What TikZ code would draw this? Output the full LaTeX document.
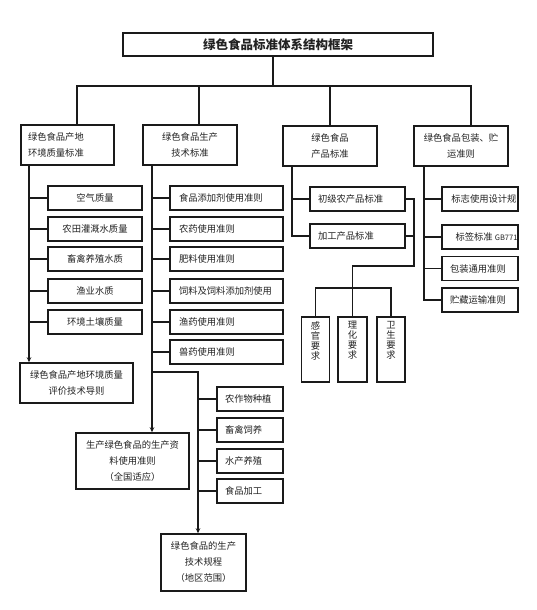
\documentclass[tikz,border=0pt]{standalone}
\usepackage{fontspec}
\newfontfamily\cjk{Noto Sans CJK SC}
\usetikzlibrary{arrows.meta,calc}
\definecolor{ink}{HTML}{1A1A1A}
\definecolor{txt}{HTML}{222222}
\begin{document}
\begin{tikzpicture}[x=1pt,y=-1pt,
  bx/.style={draw=ink, line width=1.2pt, inner sep=0pt, text=txt, font=\cjk\fontsize{9.3}{16}\selectfont},
  cbx/.style 2 args={bx, minimum width=#1pt, minimum height=#2pt, align=center},
  lbx/.style n args={3}{bx, text width=#1pt, inner xsep=#2pt, minimum height=#3pt, align=left},
  clipbx/.style={bx, minimum width=76pt, minimum height=24pt,
    path picture={\node[anchor=west, inner sep=0pt, text=txt, font=\cjk\fontsize{9.3}{16}\selectfont] at ([xshift=8pt]path picture bounding box.west) {#1};}},
  vtxt/.style={anchor=north, inner sep=0pt, text=txt, align=center, font=\cjk\fontsize{9.3}{10}\selectfont},
  ln/.style={draw=ink, line width=1.6pt},
  arr/.style={ln, -{Stealth[length=5pt,width=4.5pt]}}
]
\useasboundingbox (0,0) rectangle (536,610);

% title
\node[cbx={310}{23}, line width=1.5pt, font=\cjk\bfseries\fontsize{12.5}{14}\selectfont] (title) at (278,44.5) {绿色食品标准体系结构框架};

% level 2
\node[lbx={79}{7}{40}] (b1) at (67.5,145) {绿色食品产地\\环境质量标准};
\node[cbx={94}{40}, line width=1.5pt] (b2) at (190,145) {绿色食品生产\\技术标准};
\node[cbx={94}{40}, line width=1.5pt] (b3) at (330,146) {绿色食品\\产品标准};
\node[cbx={94}{40}, line width=1.5pt] (b4) at (461,146) {绿色食品包装、贮\\运准则};

% column 1
\node[cbx={94}{24}] (a1) at (95,198) {空气质量};
\node[cbx={94}{24}] (a2) at (95,229) {农田灌溉水质量};
\node[cbx={94}{24}] (a3) at (95,259) {畜禽养殖水质};
\node[cbx={94}{24}] (a4) at (95,291) {渔业水质};
\node[cbx={94}{24}] (a5) at (95,322) {环境土壤质量};
\node[cbx={113}{40}, line width=1.5pt] (e1) at (76.5,383) {绿色食品产地环境质量\\评价技术导则};

% column 2
\node[lbx={95}{9}{24}] (p1) at (226.5,198) {食品添加剂使用准则};
\node[lbx={95}{9}{24}] (p2) at (226.5,229) {农药使用准则};
\node[lbx={95}{9}{24}] (p3) at (226.5,259) {肥料使用准则};
\node[lbx={95}{9}{24}] (p4) at (226.5,291) {饲料及饲料添加剂使用};
\node[lbx={95}{9}{24}] (p5) at (226.5,322) {渔药使用准则};
\node[lbx={95}{9}{24}] (p6) at (226.5,352) {兽药使用准则};
\node[cbx={113}{56}, line width=1.5pt] (m1) at (132.5,461) {生产绿色食品的生产资\\料使用准则\\（全国适应）};
\node[cbx={85}{57}, line width=1.5pt] (m2) at (203.5,562.5) {绿色食品的生产\\技术规程\\（地区范围）};
\node[lbx={50}{8}{24}] (q1) at (250,399) {农作物种植};
\node[lbx={50}{8}{24}] (q2) at (250,430) {畜禽饲养};
\node[lbx={50}{8}{24}] (q3) at (250,461) {水产养殖};
\node[lbx={50}{8}{24}] (q4) at (250,491) {食品加工};

% column 3
\node[lbx={79}{8}{24}] (r1) at (357.5,199) {初级农产品标准};
\node[lbx={79}{8}{24}] (r2) at (357.5,236) {加工产品标准};
\node[bx, minimum width=28pt, minimum height=65pt] (v1) at (315.5,349.5) {};
\node[bx, minimum width=29pt, minimum height=65pt] (v2) at (352.5,349.5) {};
\node[bx, minimum width=28pt, minimum height=65pt] (v3) at (391,349.5) {};
\node[vtxt] (v1t) at ($(v1.north)+(0,5)$) {感\\官\\要\\求};
\node[vtxt] (v2t) at ($(v2.north)+(0,5)$) {理\\化\\要\\求};
\node[vtxt] (v3t) at ($(v3.north)+(0,5)$) {卫\\生\\要\\求};

% column 4
\node[clipbx={标志使用设计规范}] (w1) at (480,199) {};
\node[clipbx={标签标准 {\fontsize{7.5}{9}\selectfont GB7718}}] (w2) at (480,237) {};
\node[lbx={60}{8}{24}] (w3) at (480,268.5) {包装通用准则};
\node[lbx={60}{8}{24}] (w4) at (480,300) {贮藏运输准则};

% connectors: top
\coordinate (tj) at (273,86);
\coordinate (d1) at (77,86);
\coordinate (d2) at (199,86);
\coordinate (d3) at (330,86);
\coordinate (d4) at (471,86);
\draw[ln] (tj |- title.south) -- (tj);
\draw[ln] (d1 |- b1.north) -- (d1) -- (d4) -- (d4 |- b4.north);
\draw[ln] (d2) -- (d2 |- b2.north);
\draw[ln] (d3) -- (d3 |- b3.north);

% column 1
\coordinate (c1) at (29,0);
\draw[arr] (c1 |- b1.south) -- (c1 |- e1.north);
\foreach \n in {a1,a2,a3,a4,a5} \draw[ln] (c1 |- \n.west) -- (\n.west);

% column 2
\coordinate (c2) at (152,0);
\draw[arr] (c2 |- b2.south) -- (c2 |- m1.north);
\foreach \n in {p1,p2,p3,p4,p5,p6} \draw[ln] (c2 |- \n.west) -- (\n.west);
\coordinate (j2) at (152,372);
\coordinate (j3) at (198,372);
\draw[arr] (j2) -- (j3) -- (j3 |- m2.north);
\foreach \n in {q1,q2,q3,q4} \draw[ln] (j3 |- \n.west) -- (\n.west);

% column 3
\coordinate (c3) at (292,0);
\draw[ln] (c3 |- b3.south) -- (c3 |- r2.west) -- (r2.west);
\draw[ln] (c3 |- r1.west) -- (r1.west);
\coordinate (k1) at (414,266);
\draw[ln] (r1.east) -- (r1.east -| k1) -- (k1) -- (k1 -| v2.north) -- (v2.north);
\draw[ln] (r2.east) -- (r2.east -| k1);
\coordinate (k2) at (0,288);
\draw[ln] (v1.north) -- (v1.north |- k2) -- (v3.north |- k2) -- (v3.north);

% column 4
\coordinate (c4) at (424,0);
\draw[ln] (c4 |- b4.south) -- (c4 |- w4.west) -- (w4.west);
\foreach \n in {w1,w2,w3} \draw[ln] (c4 |- \n.west) -- (\n.west);
\end{tikzpicture}
\end{document}
